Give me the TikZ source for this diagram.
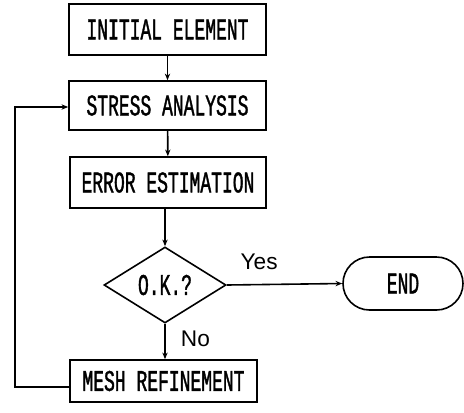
\documentclass[tikz,border=0pt]{standalone}
\usepackage{fontspec}
\setmainfont{Liberation Sans}
\newfontfamily\boxfont[FakeStretch=0.6,FakeBold=1.2]{Liberation Mono}
\usetikzlibrary{shapes.geometric,shapes.misc,arrows.meta}
\begin{document}
\begin{tikzpicture}[x=0.75pt,y=-0.75pt,
  bf/.style={font=\boxfont\fontsize{22.5}{24}\selectfont},
  box/.style={draw,line width=1.2pt,rectangle,inner sep=0pt,bf},
  dec/.style={draw,line width=1.2pt,diamond,aspect=1.6,inner sep=0pt,minimum width=91.5pt,minimum height=57pt,bf},
  term/.style={draw,line width=1.2pt,rounded rectangle,inner sep=0pt,minimum width=90pt,minimum height=39.75pt,bf},
  conn/.style={line width=1.2pt,-{Stealth[length=5pt,width=4pt]}},
  lbl/.style={font=\fontsize{17}{19}\selectfont}]
\useasboundingbox (0,0) rectangle (464,412);
\node[box,minimum width=147.75pt,minimum height=38.25pt] (init) at (167.5,29.5) {INITIAL ELEMENT};
\node[box,minimum width=147.75pt,minimum height=36.75pt] (stress) at (167.5,105.5) {STRESS ANALYSIS};
\node[box,minimum width=147pt,minimum height=38.25pt] (err) at (168,182.5) {ERROR ESTIMATION};
\node[dec] (ok) at (165,285) {O.K.?};
\node[term] (end) at (403,283.5) {END};
\node[box,minimum width=140.25pt,minimum height=31.5pt] (mesh) at (163.5,381) {MESH REFINEMENT};
\coordinate (lb) at (15,387);
\coordinate (lt) at (15,107);
\draw[conn] (init) -- (stress);
\draw[conn] (stress) -- (err);
\draw[conn] (err.south -| ok.north) -- (ok.north);
\draw[conn] (ok.east) -- (end.west) node[lbl,pos=0.28,above=7pt] {Yes};
\draw[conn] (ok.south) -- (ok.south |- mesh.north) node[lbl,pos=0.42,right=8pt] {No};
\draw[conn] (mesh.west |- lb) -- (lb) -- (lt) -- (stress.west |- lt);
\end{tikzpicture}
\end{document}
